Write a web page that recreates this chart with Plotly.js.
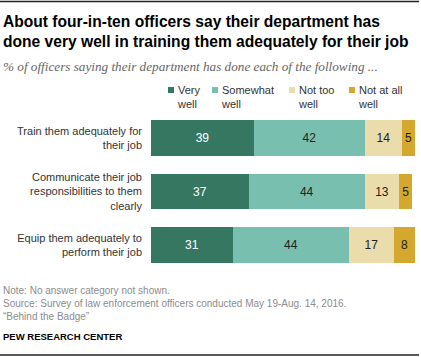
<!DOCTYPE html>
<html><head><meta charset="utf-8">
<script src="https://cdn.plot.ly/plotly-3.0.1.min.js"></script>
<style>html,body{margin:0;padding:0;background:#fff}#chart{width:421px;height:357px}</style>
</head><body><div id="chart"></div>
<script>
const categories = ["Train them adequately for<br>their job", "Communicate their job<br>responsibilities to them<br>clearly", "Equip them adequately to<br>perform their job"];
const veryWell = [39, 37, 31];
const somewhatWell = [42, 44, 44];
const notTooWell = [14, 13, 17];
const notAtAllWell = [5, 5, 8];
const seriesNames = ["Very<br>well", "Somewhat<br>well", "Not too<br>well", "Not at all<br>well"];
const seriesValues = [veryWell, somewhatWell, notTooWell, notAtAllWell];
const colors = ["#367762", "#78BFAF", "#EBDCAC", "#D4A72F"];
const textColors = ["#ffffff", "#222222", "#222222", "#222222"];

const W = 421, H = 357;
const M = {l: 151, r: 6, t: 111, b: 85};
const PW = W - M.l - M.r, PH = H - M.t - M.b;
const px = x => (x - M.l) / PW;
const py = y => (H - M.b - y) / PH;

const traces = seriesValues.map((vals, i) => ({
  type: 'bar', orientation: 'h', y: categories, x: vals, name: seriesNames[i],
  marker: {color: colors[i], line: {width: 0}},
  text: vals.map(String), textposition: 'inside', insidetextanchor: 'middle',
  textfont: {family: 'Liberation Sans, Arial, sans-serif', size: 12, color: textColors[i]},
  constraintext: 'none', hoverinfo: 'none', showlegend: false
}));

const font = 'Liberation Sans, Arial, sans-serif';
const annotations = [
  {text: '<b>About four-in-ten officers say their department has<br>done very well in training them adequately for their job</b>',
   xref: 'paper', yref: 'paper', x: px(1), y: py(11), xanchor: 'left', yanchor: 'top', align: 'left', showarrow: false,
   font: {family: font, size: 15.6, color: '#000'}},
  {text: '<i>% of officers saying their department has done each of the following ...</i>',
   xref: 'paper', yref: 'paper', x: px(1), y: py(57), xanchor: 'left', yanchor: 'top', align: 'left', showarrow: false,
   font: {family: 'Liberation Serif, Georgia, serif', size: 13.2, color: '#666'}},
  {text: 'Note: No answer category not shown.<br>Source: Survey of law enforcement officers conducted May 19-Aug. 14, 2016.<br>“Behind the Badge”',
   xref: 'paper', yref: 'paper', x: px(1), y: py(283), xanchor: 'left', yanchor: 'top', align: 'left', showarrow: false,
   font: {family: font, size: 10, color: '#8c8c8c'}},
  {text: '<b>PEW RESEARCH CENTER</b>',
   xref: 'paper', yref: 'paper', x: px(1), y: py(329), xanchor: 'left', yanchor: 'top', align: 'left', showarrow: false,
   font: {family: font, size: 9.5, color: '#000'}}
];
const legendX = [168, 212, 289, 349];
const shapes = [
  {type: 'line', xref: 'paper', yref: 'paper', x0: px(0), x1: px(419), y0: py(1.5), y1: py(1.5), line: {color: '#222', width: 1.5}},
  {type: 'line', xref: 'paper', yref: 'paper', x0: px(0), x1: px(419), y0: py(355), y1: py(355), line: {color: '#222', width: 1.5}}
];
seriesNames.forEach((n, i) => {
  shapes.push({type: 'rect', xref: 'paper', yref: 'paper', x0: px(legendX[i]), x1: px(legendX[i] + 6),
    y0: py(87), y1: py(93), fillcolor: colors[i], line: {width: 0}});
  annotations.push({text: n, xref: 'paper', yref: 'paper', x: px(legendX[i] + 7), y: py(82),
    xanchor: 'left', yanchor: 'top', align: 'left', showarrow: false,
    font: {family: font, size: 11, color: '#333'}});
});

const layout = {
  width: W, height: H, margin: M, paper_bgcolor: '#fff', plot_bgcolor: '#fff',
  barmode: 'stack', bargap: 0.33, showlegend: false,
  xaxis: {range: [0, 100], visible: false, fixedrange: true},
  yaxis: {autorange: 'reversed', showgrid: false, zeroline: false, showline: false, ticks: '',
    ticklabelstandoff: 8, tickfont: {family: font, size: 11, color: '#333'}, fixedrange: true},
  annotations: annotations, shapes: shapes
};
Plotly.newPlot('chart', traces, layout, {displayModeBar: false, staticPlot: true});
</script></body></html>
